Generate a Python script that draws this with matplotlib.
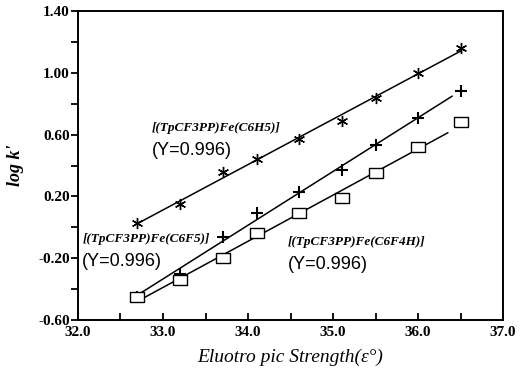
import numpy as np
import matplotlib
matplotlib.use("Agg")
import matplotlib.pyplot as plt
from matplotlib.ticker import FixedLocator, FormatStrFormatter

# eluotropic strength of the mobile phases
strength = [32.7, 33.2, 33.7, 34.1, 34.6, 35.1, 35.5, 36.0, 36.5]

# log k' for each porphyrin complex
logk_c6h5 = [0.03, 0.15, 0.36, 0.44, 0.57, 0.69, 0.84, 1.00, 1.16]
logk_c6f5 = [-0.45, -0.30, -0.06, 0.09, 0.23, 0.37, 0.53, 0.71, 0.88]
logk_c6f4h = [-0.45, -0.34, -0.20, -0.04, 0.09, 0.19, 0.35, 0.52, 0.68]

labels = ["[(TpCF3PP)Fe(C6H5)]", "[(TpCF3PP)Fe(C6F5)]", "[(TpCF3PP)Fe(C6F4H)]"]
r_text = "(Υ=0.996)"

x_major = [32.0, 33.0, 34.0, 35.0, 36.0, 37.0]
y_major = [-0.60, -0.20, 0.20, 0.60, 1.00, 1.40]

serif = ["Liberation Serif", "DejaVu Serif"]
sans = ["Liberation Sans", "DejaVu Sans"]

fig = plt.figure(figsize=(5.21, 3.68), dpi=100)
ax = fig.add_axes([0.1497, 0.1304, 0.8158, 0.8397])

rect = [(-1.3, -1), (1.3, -1), (1.3, 1), (-1.3, 1), (-1.3, -1)]
styles = [
    dict(marker=(6, 2, 0), ms=8, mew=1.0, mfc="none"),
    dict(marker="+", ms=9, mew=1.5, mfc="none"),
    dict(marker=rect, ms=10, mew=1.0, mfc="white"),
]
line_ends = [36.5, 36.4, 36.35]

x = np.array(strength)
for y, st, xe in zip([logk_c6h5, logk_c6f5, logk_c6f4h], styles, line_ends):
    m, b = np.polyfit(x, y, 1)
    xl = np.array([x[0], xe])
    ax.plot(xl, m * xl + b, color="black", lw=1.1, zorder=2)
    ax.plot(x, y, ls="none", color="black", mec="black", zorder=3, **st)

ax.set_xlim(32.0, 37.0)
ax.set_ylim(-0.6, 1.4)
ax.xaxis.set_major_locator(FixedLocator(x_major))
ax.xaxis.set_minor_locator(FixedLocator([v + 0.5 for v in x_major[:-1]]))
ax.yaxis.set_major_locator(FixedLocator(y_major))
ax.yaxis.set_minor_locator(FixedLocator([v + 0.2 for v in y_major[:-1]]))
ax.xaxis.set_major_formatter(FormatStrFormatter("%.1f"))
ax.yaxis.set_major_formatter(FormatStrFormatter("%.2f"))

ax.tick_params(axis="x", which="both", direction="in", length=5, width=1.3, pad=4)
ax.tick_params(axis="y", which="both", direction="out", length=5, width=1.3, pad=1)
for t in ax.get_xticklabels() + ax.get_yticklabels():
    t.set_family(serif)
    t.set_fontweight("bold")
    t.set_fontsize(11)
for s in ax.spines.values():
    s.set_linewidth(1.4)

ax.set_xlabel("Eluotro pic Strength(ε°)", family=serif, style="italic",
              fontsize=14, labelpad=7)
ax.set_ylabel("log k'", family=serif, style="italic", fontweight="bold",
              fontsize=13, labelpad=10)

# complex names with correlation coefficients
name_pos = [(32.87, 0.645), (32.05, -0.075), (34.47, -0.095)]
for lab, (px, py) in zip(labels, name_pos):
    ax.text(px, py, lab, family=serif, style="italic", fontweight="bold",
            fontsize=9.5, va="center", ha="left")
    ax.text(px, py - 0.145, r_text, family=sans, fontsize=13, va="center", ha="left")

fig.savefig("out.png", dpi=100)
